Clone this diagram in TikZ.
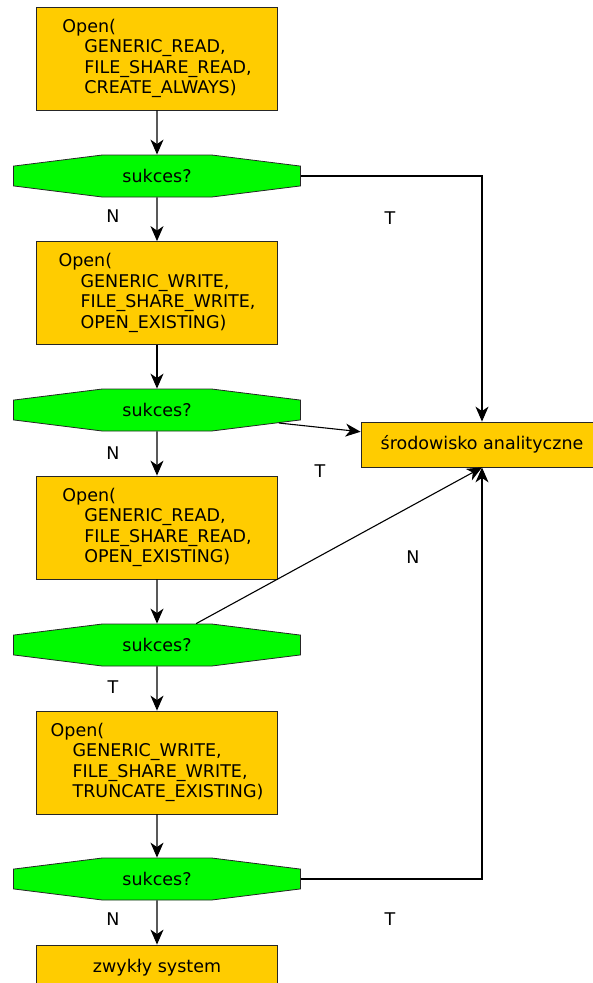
\documentclass[tikz,border=0pt]{standalone}
\usepackage{fontspec}
\setmainfont{DejaVu Sans}
\usetikzlibrary{shapes.misc,arrows.meta}
\definecolor{boxorange}{RGB}{255,204,0}
\definecolor{testgreen}{RGB}{0,250,0}
\newcommand{\flagind}{\hspace*{22pt}}
\tikzset{
    chart/.cd,
    box/.style={draw=black!85,line width=0.8pt,fill=boxorange,minimum width=241pt,minimum height=103pt,align=left,inner sep=0pt},
    decision/.style={draw=black!85,line width=0.8pt,fill=testgreen,chamfered rectangle,chamfered rectangle angle=82.875,chamfered rectangle xsep=84pt,chamfered rectangle ysep=10.5pt,minimum width=287pt,minimum height=42pt,inner sep=0pt},
    arrow/.style={line width=1.1pt,-{Stealth[length=15pt,width=13pt,inset=4.5pt]}},
    answer/.style={inner sep=0pt},
}

\begin{document}
\begin{tikzpicture}[x=1pt,y=-1pt,font=\fontsize{17.5}{20.5}\selectfont]
      \useasboundingbox (0,0) rectangle (592,983);
      \node[chart/box] (open1) at (157,58.5) {Open(\\\flagind GENERIC\_READ,\\\flagind FILE\_SHARE\_READ,\\\flagind CREATE\_ALWAYS)};
      \node[chart/box] (open2) at (157,293) {Open(\\\flagind GENERIC\_WRITE,\\\flagind FILE\_SHARE\_WRITE,\\\flagind OPEN\_EXISTING)};
      \node[chart/box] (open3) at (157,527.5) {Open(\\\flagind GENERIC\_READ,\\\flagind FILE\_SHARE\_READ,\\\flagind OPEN\_EXISTING)};
      \node[chart/box] (open4) at (157,762.5) {Open(\\\flagind GENERIC\_WRITE,\\\flagind FILE\_SHARE\_WRITE,\\\flagind TRUNCATE\_EXISTING)};
      \node[chart/box,minimum height=45pt,align=center] (plain) at (157,967.5) {zwykły system};
      \node[chart/box,minimum width=242pt,minimum height=45pt,align=center] (env) at (482,444.5) {środowisko analityczne};

      \foreach[count=\i] \y in {176,410,645,879} {
        \node[chart/decision] (test\i) at (157,\y) {sukces?};
        \draw[chart/arrow] (open\i) -- (test\i);
      }
      \foreach[evaluate={int(\x+1)} as \z] \x in {1,2,3} {
        \draw[chart/arrow] (test\x) -- (open\z);
      }
      \draw[chart/arrow] (test4) -- (plain);

      \draw[chart/arrow] (test1.east) -| (env.north);
      \draw[chart/arrow] (test2) -- (env.174);
      \draw[chart/arrow] (test3) -- (env.south);
      \draw[chart/arrow] (test4.east) -| (env.south);

      \node[chart/answer] (n1) at (113,216) {N};
      \node[chart/answer] (t1) at (390,218) {T};
      \node[chart/answer] (n2) at (113,453) {N};
      \node[chart/answer] (t2) at (320,471) {T};
      \node[chart/answer] (n3) at (413,557) {N};
      \node[chart/answer] (t3) at (113,687) {T};
      \node[chart/answer] (n4) at (113,919) {N};
      \node[chart/answer] (t4) at (390,919) {T};
    \end{tikzpicture}
\end{document}
